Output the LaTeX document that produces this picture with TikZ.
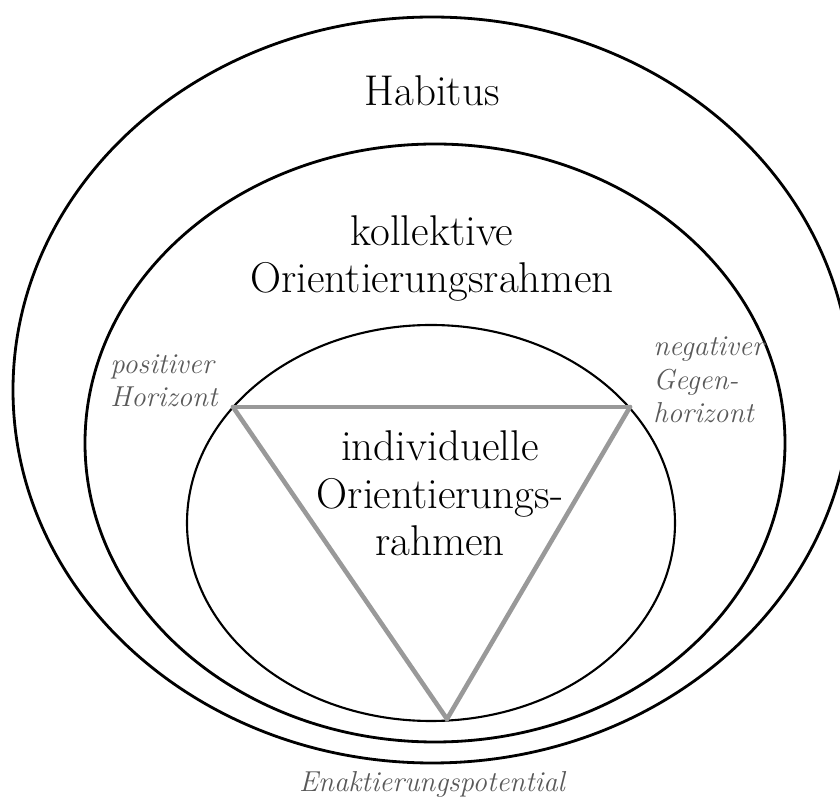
\documentclass[tikz,border=0pt]{standalone}
\usepackage{amsmath}
\usepackage{amssymb}

\begin{document}
\begin{tikzpicture}
  [x=0.02cm,y=-0.02cm,
   ring/.style={draw,line width=1.6pt},
   big/.style={font=\fontsize{24.5}{27.2}\selectfont,align=center,anchor=base,inner sep=0pt},
   small/.style={font=\fontsize{16.4}{19.3}\selectfont\itshape,text=black!65,align=left,anchor=base west,inner sep=0pt},
   horizont/.style={draw=black!40,line width=2.6pt,line join=miter}]
  \useasboundingbox (0,0) rectangle (840,800);
  \clip (0,0) rectangle (840,800);

  \draw [ring] (432,390) ellipse [x radius=419, y radius=373];
  \draw [ring] (435,443) ellipse [x radius=350, y radius=299];
  \draw [ring,line width=1.2pt] (431,523) ellipse [x radius=244, y radius=198];

  \coordinate (pos) at (233,407);
  \coordinate (neg) at (630,407);
  \coordinate (enakt) at (447,719);

  \foreach \from/\to in {pos/neg, neg/enakt, enakt/pos}
    \draw [horizont,line cap=round] (\from) -- (\to);

  % base anchor sits on the last line
  \node [big] (habitus) at (432,106) {Habitus};
  \node [big] (kollektiv) at (432,293) {kollektive\\Orientierungsrahmen};
  \node [big] (individuell) at (440,556) {individuelle\\Orientierungs-\\rahmen};

  \node [small] (poshor) at (110,407) {positiver\\Horizont};
  \node [small] (neghor) at (653,423) {negativer\\Gegen-\\horizont};
  \node [small,anchor=base] (enaktlabel) at (432,792) {Enaktierungspotential};
\end{tikzpicture}
\end{document}
